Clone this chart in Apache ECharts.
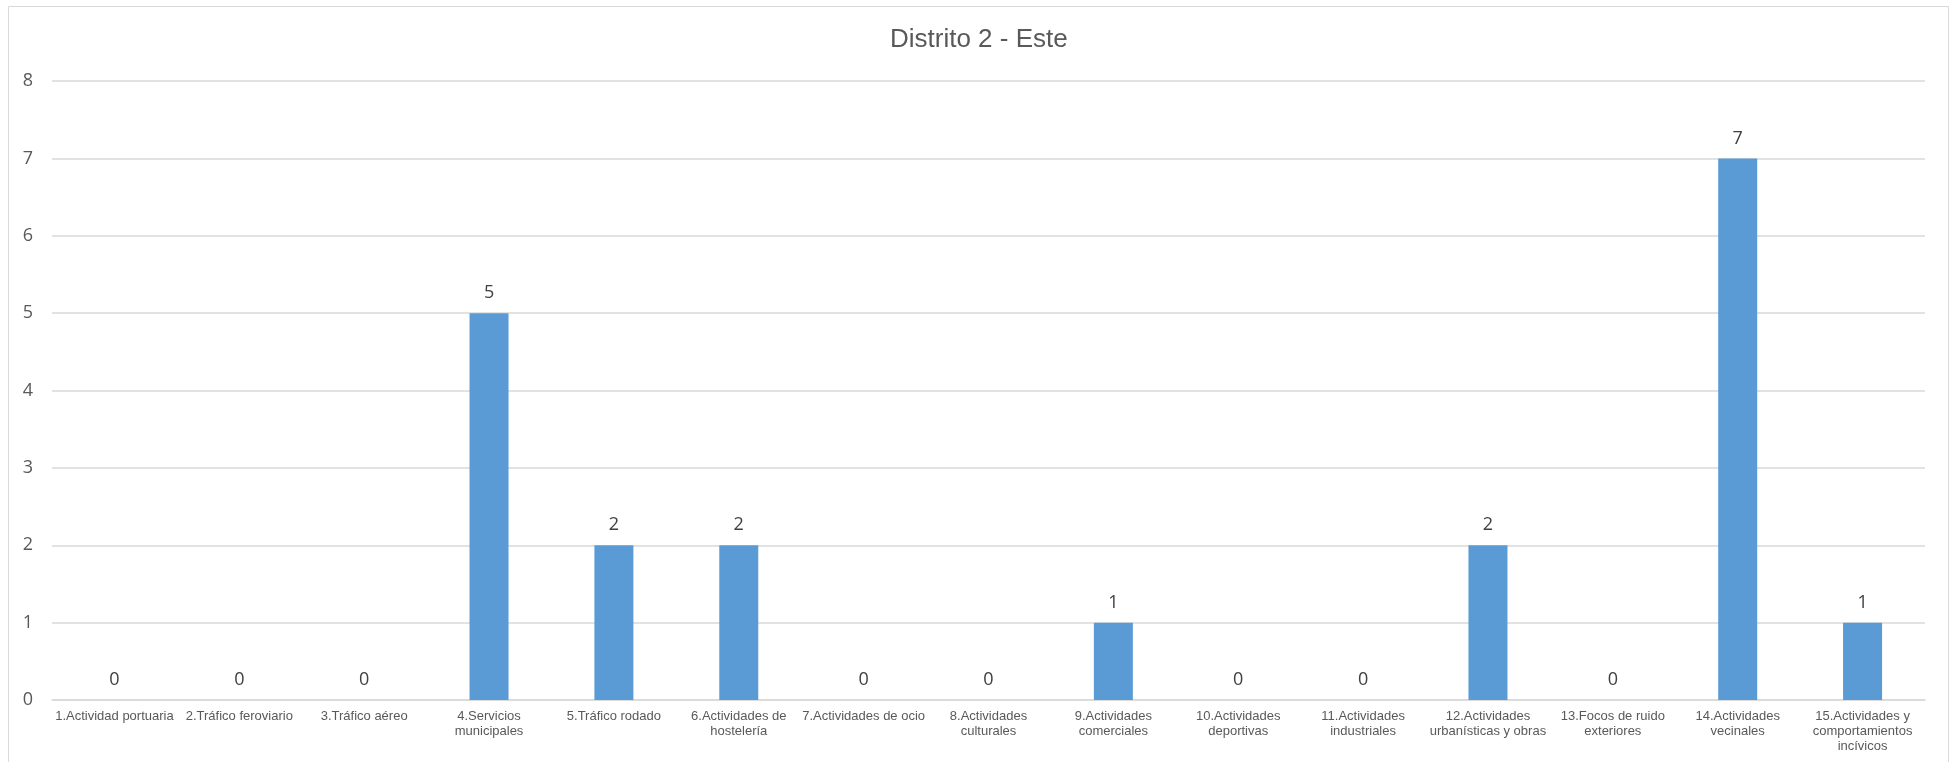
<!DOCTYPE html>
<html>
<head>
<meta charset="utf-8">
<script src="https://cdn.jsdelivr.net/npm/echarts@6/dist/echarts.min.js"></script>
<style>
html,body{margin:0;padding:0;background:#fff;}
#chart{width:1952px;height:762px;}
</style>
</head>
<body>
<div id="chart"></div>
<script>
const chartTitle = "Distrito 2 - Este";
const categories = [
  "1.Actividad portuaria",
  "2.Tráfico feroviario",
  "3.Tráfico aéreo",
  "4.Servicios municipales",
  "5.Tráfico rodado",
  "6.Actividades de hostelería",
  "7.Actividades de ocio",
  "8.Actividades culturales",
  "9.Actividades comerciales",
  "10.Actividades deportivas",
  "11.Actividades industriales",
  "12.Actividades urbanísticas y obras",
  "13.Focos de ruido exteriores",
  "14.Actividades vecinales",
  "15.Actividades y comportamientos incívicos"
];
const tickLabels = [
  "1.Actividad portuaria",
  "2.Tráfico feroviario",
  "3.Tráfico aéreo",
  "4.Servicios\nmunicipales",
  "5.Tráfico rodado",
  "6.Actividades de\nhostelería",
  "7.Actividades de ocio",
  "8.Actividades\nculturales",
  "9.Actividades\ncomerciales",
  "10.Actividades\ndeportivas",
  "11.Actividades\nindustriales",
  "12.Actividades\nurbanísticas y obras",
  "13.Focos de ruido\nexteriores",
  "14.Actividades\nvecinales",
  "15.Actividades y\ncomportamientos\nincívicos"
];
const values = [0, 0, 0, 5, 2, 2, 0, 0, 1, 0, 0, 2, 0, 7, 1];
const yTicks = [0, 1, 2, 3, 4, 5, 6, 7, 8];

const chart = echarts.init(document.getElementById('chart'), null, {renderer: 'canvas'});
chart.setOption({
  animation: false,
  backgroundColor: '#ffffff',
  title: {
    text: chartTitle,
    left: 890,
    top: 27,
    padding: 0,
    textStyle: {
      fontFamily: 'Liberation Sans, Arial, sans-serif',
      fontSize: 26,
      lineHeight: 26,
      fontWeight: 'normal',
      color: '#595959'
    }
  },
  graphic: [{
    type: 'rect',
    shape: {x: 8.5, y: 6.5, width: 1940, height: 770},
    style: {fill: 'none', stroke: '#D9D9D9', lineWidth: 1},
    silent: true,
    z: -1
  }],
  grid: {left: 52, right: 27, top: 81, bottom: 62, containLabel: false},
  xAxis: {
    type: 'category',
    data: categories,
    axisLine: {show: true, lineStyle: {color: '#D9D9D9', width: 1.5}},
    axisTick: {show: false},
    axisLabel: {
      interval: 0,
      margin: 9,
      fontFamily: 'Liberation Sans, Arial, sans-serif',
      fontSize: 13,
      lineHeight: 15,
      color: '#595959',
      formatter: function (v, i) { return tickLabels[i]; }
    }
  },
  yAxis: {
    type: 'value',
    min: yTicks[0],
    max: yTicks[yTicks.length - 1],
    interval: 1,
    axisLine: {show: false},
    axisTick: {show: false},
    splitLine: {show: true, lineStyle: {color: '#D9D9D9', width: 1.5}},
    axisLabel: {
      margin: 19,
      fontFamily: 'Open Sans, sans-serif',
      fontSize: 18,
      color: '#595959'
    }
  },
  series: [{
    type: 'bar',
    data: values,
    barWidth: 39,
    itemStyle: {color: '#5B9BD5'},
    label: {
      show: true,
      position: 'top',
      distance: 11,
      fontFamily: 'Open Sans, sans-serif',
      fontSize: 18,
      color: '#404040'
    }
  }]
});
</script>
</body>
</html>
